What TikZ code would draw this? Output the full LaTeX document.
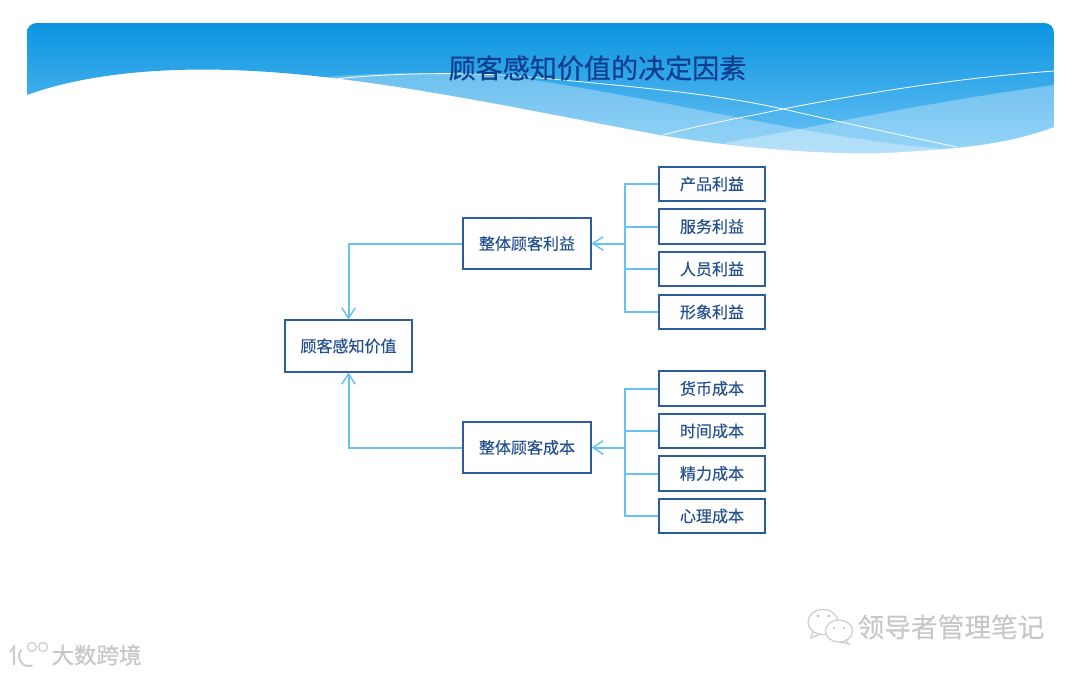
\documentclass[tikz,border=0pt]{standalone}
\usepackage{fontspec}
\setmainfont[FakeBold=.25]{Noto Sans CJK SC}
\newfontfamily\titlefont[FakeBold=.6]{Noto Sans CJK SC}
\newfontfamily\markfont[FakeBold=.6]{Noto Sans CJK SC}
\usetikzlibrary{arrows.meta}
\definecolor{boxblue}{HTML}{2F5C9E}
\definecolor{textblue}{HTML}{24508F}
\definecolor{titleblue}{HTML}{0E3F8F}
\definecolor{linkblue}{HTML}{66C2F2}
\definecolor{bandtop}{HTML}{0A94E0}
\definecolor{bandbot}{HTML}{6CC3F5}
\tikzset{
  mainbox/.style={draw=boxblue, line width=.46mm, fill=white, text=textblue, font=\fontsize{11.4pt}{13pt}\selectfont, minimum width=31.8mm, minimum height=12.8mm, inner sep=0pt},
  leafbox/.style={mainbox, minimum width=26.6mm, minimum height=8.6mm},
  link/.style={draw=linkblue, line width=.5mm},
  linkarrow/.style={link, -{Straight Barb[length=2.6mm, width=3.4mm, line width=.36mm]}},
  wave/.style={fill=white, fill opacity=.3},
  thinline/.style={draw=white, line width=.2mm},
  marktext/.style={text=black!22},
  markline/.style={draw=black!20, line width=.3mm}
}
\begin{document}
\begin{tikzpicture}[x=.25mm, y=-.25mm]
  \useasboundingbox (0,0) rectangle (1080,675);
  % top band
  \begin{scope}
    \clip (27,95) -- (27,33) .. controls (27,27) and (31,23) .. (37,23) -- (1044,23)
      .. controls (1050,23) and (1054,27) .. (1054,33) -- (1054,127)
      .. controls (1010,143) and (970,148) .. (900,152)
      .. controls (850,156) and (750,150) .. (660,135)
      .. controls (500,105) and (360,74) .. (230,70)
      .. controls (170,68) and (90,72) .. (27,95) -- cycle;
    \shade[top color=bandtop, bottom color=bandbot, middle color=bandtop!50!bandbot] (27,23) rectangle (1054,155);
    \fill[wave] (325,77) .. controls (400,71) and (480,72) .. (540,81)
      .. controls (640,97) and (720,115) .. (800,129)
      .. controls (860,140) and (910,147) .. (960,150) -- (960,170) -- (300,170) -- cycle;
    \fill[wave] (1054,85) .. controls (960,98) and (880,113) .. (800,129)
      .. controls (770,135) and (750,138) .. (725,143) -- (725,170) -- (1054,170) -- cycle;
    \draw[thinline] (335,79) .. controls (400,72) and (480,72) .. (540,78)
      .. controls (650,88) and (720,95) .. (783,109)
      .. controls (840,122) and (900,135) .. (957,147);
    \draw[thinline] (663,135) .. controls (700,125) and (740,118) .. (783,109)
      .. controls (880,90) and (970,77) .. (1054,71);
  \end{scope}
  \node[text=titleblue, font=\titlefont\fontsize{19.25pt}{22pt}\selectfont] (title) at (597.5,68) {顾客感知价值的决定因素};
  % boxes
  \node[mainbox] (value) at (348.5,346) {顾客感知价值};
  \node[mainbox] (benefit) at (527,243.5) {整体顾客利益};
  \node[mainbox] (cost) at (527,447.5) {整体顾客成本};
  \node[leafbox] (b1) at (712,184) {产品利益};
  \node[leafbox] (b2) at (712,226.5) {服务利益};
  \node[leafbox] (b3) at (712,269) {人员利益};
  \node[leafbox] (b4) at (712,312) {形象利益};
  \node[leafbox] (c1) at (712,388.5) {货币成本};
  \node[leafbox] (c2) at (712,431) {时间成本};
  \node[leafbox] (c3) at (712,473.5) {精力成本};
  \node[leafbox] (c4) at (712,516) {心理成本};
  % connectors
  \coordinate (bjoin) at (625,243.5);
  \coordinate (cjoin) at (625,447.5);
  \draw[linkarrow] (benefit.west) -| (value.north);
  \draw[linkarrow] (cost.west) -| (value.south);
  \draw[linkarrow] (bjoin) -- (benefit.east);
  \draw[linkarrow] (cjoin) -- (cost.east);
  \draw[link] (b1.west) -| (bjoin);
  \draw[link] (b2.west) -| (bjoin);
  \draw[link] (b3.west) -| (bjoin);
  \draw[link] (b4.west) -| (bjoin);
  \draw[link] (c1.west) -| (cjoin);
  \draw[link] (c2.west) -| (cjoin);
  \draw[link] (c3.west) -| (cjoin);
  \draw[link] (c4.west) -| (cjoin);
  % marks in the corners
  \draw[markline, line width=.5mm] (10,652) -- (14,647) -- (14,665);
  \draw[markline, line width=.5mm] (21.3,649.6) arc (-140:-290:10);
  \draw[markline] (32,647) circle (4.5);
  \draw[markline] (43,647) circle (4.5);
  \node[marktext, font=\markfont\fontsize{16pt}{18pt}\selectfont] (mark1) at (96.5,655) {大数跨境};
  \draw[markline, fill=white] (823,622) ellipse (15 and 12.5);
  \draw[markline] (813,631) -- (811,638) -- (820,634);
  \draw[markline, fill=white] (839,631) ellipse (13.5 and 11);
  \draw[markline] (846,640) -- (849,644) -- (840,642);
  \fill[black!25] (818,616) circle (1.3) (829,616) circle (1.3) (834,628) circle (1.2) (844,628) circle (1.2);
  \node[marktext, font=\fontsize{19pt}{22pt}\selectfont] (mark2) at (951,627) {领导者管理笔记};
\end{tikzpicture}
\end{document}
